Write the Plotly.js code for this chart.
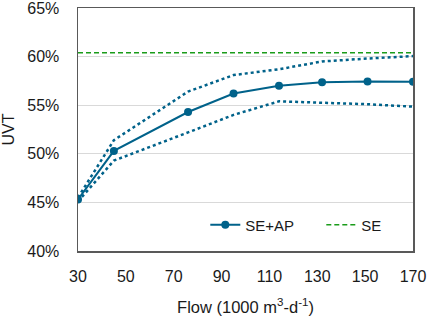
<!DOCTYPE html>
<html><head><meta charset="utf-8">
<script src="https://cdn.plot.ly/plotly-3.0.1.min.js"></script>
<style>html,body{margin:0;padding:0;background:#fff}</style>
</head><body>
<div id="chart" style="width:429px;height:319px"></div>
<script>
const flow = [30, 45, 76, 95, 114, 132, 151, 170];
const seAp = [45.3, 50.3, 54.3, 56.2, 57.0, 57.35, 57.45, 57.4];
const seApUpper = [45.5, 51.4, 56.4, 58.1, 58.7, 59.5, 59.8, 60.05];
const seApLower = [45.1, 49.3, 52.2, 54.0, 55.4, 55.25, 55.1, 54.85];
const seX = [30, 170];
const seVal = [60.4, 60.4];
const xTicks = [30, 50, 70, 90, 110, 130, 150, 170];
const yTicks = [40, 45, 50, 55, 60, 65];

const blue = '#00628a';
const green = '#1a9c1a';

const traces = [
  {x: flow, y: seApUpper, mode: 'lines', showlegend: false,
   line: {color: blue, width: 2.5, dash: 'dot'}, hoverinfo: 'skip'},
  {x: flow, y: seApLower, mode: 'lines', showlegend: false,
   line: {color: blue, width: 2.5, dash: 'dot'}, hoverinfo: 'skip'},
  {x: seX, y: seVal, mode: 'lines', name: 'SE',
   line: {color: green, width: 1.5, dash: '5px,3px'}},
  {x: flow, y: seAp, mode: 'lines+markers', name: 'SE+AP',
   line: {color: blue, width: 2}, marker: {color: blue, size: 8}}
];

const fam = '"Liberation Sans", Arial, sans-serif';
const tickFont = {family: fam, size: 16, color: '#1a1a1a'};
const font = {family: fam, size: 15, color: '#1a1a1a'};
const layout = {
  width: 429, height: 319,
  margin: {l: 78, r: 16, t: 8, b: 68, autoexpand: false},
  paper_bgcolor: '#fff', plot_bgcolor: '#fff',
  font: font,
  showlegend: true,
  legend: {orientation: 'h', x: 0.38, xanchor: 'left', y: 0.107, yanchor: 'middle',
           traceorder: 'reversed', font: font, bgcolor: 'rgba(0,0,0,0)', itemwidth: 30,
           entrywidth: 71},
  xaxis: {range: [30, 170], tickvals: xTicks, ticktext: xTicks.map(String),
          showgrid: false, zeroline: false, showline: true, linecolor: '#595959', linewidth: 1.5,
          mirror: true, ticks: '', ticklabelstandoff: 10, tickfont: tickFont,
          ticklabeloverflow: 'allow',
          title: {text: 'Flow (1000 m<sup>3</sup>-d<sup>-1</sup>)', font: {family: fam, size: 16.5, color: '#1a1a1a'}, standoff: 17}},
  yaxis: {range: [40, 65], tickvals: yTicks, ticktext: yTicks.map(v => v + '%'),
          showgrid: true, gridcolor: '#d9d9d9', gridwidth: 1, zeroline: false,
          showline: true, linecolor: '#595959', linewidth: 1.5, mirror: true,
          ticks: '', ticklabelstandoff: 14, tickfont: tickFont, ticklabeloverflow: 'allow',
          title: {text: 'UVT', font: tickFont, standoff: 12}}
};
Plotly.newPlot('chart', traces, layout, {displayModeBar: false, staticPlot: true});
</script>
</body></html>
